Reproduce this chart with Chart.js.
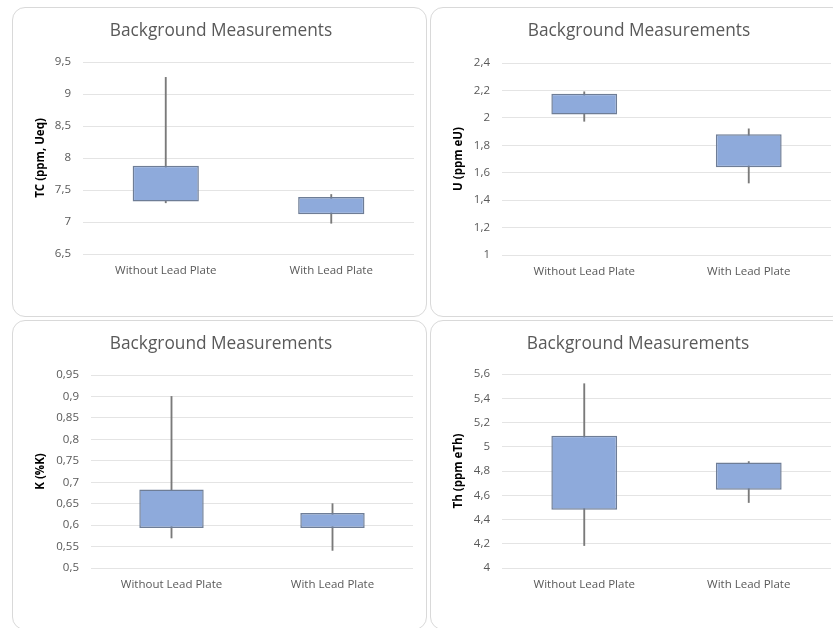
<!DOCTYPE html>
<html>
<head>
<meta charset="utf-8">
<script src="https://cdn.jsdelivr.net/npm/chart.js@4.4.1/dist/chart.umd.min.js"></script>
<style>
  html, body { margin: 0; padding: 0; background: #fff; width: 833px; height: 628px; overflow: hidden; }
  body { position: relative; }
  .card { position: absolute; border: 1px solid #d9d9d9; border-radius: 13px; background: #fff; box-sizing: border-box; overflow: hidden; }
  .card canvas { position: absolute; left: -1px; top: -1px; }
</style>
</head>
<body>
<div class="card" style="left:12px;top:7px;width:415px;height:310px"><canvas id="chartTC" width="415" height="310"></canvas></div>
<div class="card" style="left:430px;top:7px;width:415px;height:310px"><canvas id="chartU" width="415" height="310"></canvas></div>
<div class="card" style="left:12px;top:320px;width:415px;height:310px"><canvas id="chartK" width="415" height="310"></canvas></div>
<div class="card" style="left:430px;top:320px;width:415px;height:310px"><canvas id="chartTh" width="415" height="310"></canvas></div>
<script>
// Categories shared by all four panels
const categories = ["Without Lead Plate", "With Lead Plate"];

// Total count (TC), ppm Ueq
const tcMin = [7.30, 6.98];
const tcQ1  = [7.32, 7.12];
const tcQ3  = [7.88, 7.39];
const tcMax = [9.26, 7.43];
const tcTicks = [6.5, 7, 7.5, 8, 8.5, 9, 9.5];

// Uranium, ppm eU
const uMin = [1.975, 1.525];
const uQ1  = [2.025, 1.64];
const uQ3  = [2.175, 1.88];
const uMax = [2.19, 1.92];
const uTicks = [1, 1.2, 1.4, 1.6, 1.8, 2, 2.2, 2.4];

// Potassium, %K
const kMin = [0.57, 0.541];
const kQ1  = [0.593, 0.593];
const kQ3  = [0.683, 0.628];
const kMax = [0.90, 0.65];
const kTicks = [0.5, 0.55, 0.6, 0.65, 0.7, 0.75, 0.8, 0.85, 0.9, 0.95];

// Thorium, ppm eTh
const thMin = [4.185, 4.54];
const thQ1  = [4.48, 4.645];
const thQ3  = [5.09, 4.87];
const thMax = [5.52, 4.878];
const thTicks = [4, 4.2, 4.4, 4.6, 4.8, 5, 5.2, 5.4, 5.6];

const FONT = "'Open Sans', 'Liberation Sans', sans-serif";
const GREY_TEXT = "#595959";

function decimalComma(v) {
  return String(v).replace('.', ',');
}

function boxChart(id, yTitle, mins, q1s, q3s, maxs, ticks, area) {
  const canvas = document.getElementById(id);
  const W = canvas.width, H = canvas.height;
  const titleSize = 17.3, titleLine = 1.2;
  const titleTop = 14;
  const titleBottom = area.top - titleTop - titleSize * titleLine;
  // left padding keeps the chart title centred on the card
  const padLeft = 2 * area.titleCenter - area.right;

  new Chart(canvas, {
    type: 'bar',
    data: {
      labels: categories,
      datasets: [
        {
          // whiskers: min to max
          data: mins.map((m, i) => [m, maxs[i]]),
          backgroundColor: '#7a7a7a',
          borderWidth: 0,
          barThickness: 1.2,
          grouped: false,
          order: 2
        },
        {
          // boxes: first to third quartile
          data: q1s.map((q, i) => [q, q3s[i]]),
          backgroundColor: '#8eaadb',
          borderColor: '#6e7d96',
          borderWidth: 1.5,
          borderSkipped: false,
          barPercentage: 0.4,
          categoryPercentage: 1.0,
          grouped: false,
          order: 1
        }
      ]
    },
    options: {
      responsive: false,
      animation: false,
      devicePixelRatio: 1,
      layout: { padding: { left: padLeft, top: 0, bottom: 0, right: W - area.right } },
      plugins: {
        legend: { display: false },
        tooltip: { enabled: false },
        title: {
          display: true,
          text: 'Background Measurements',
          color: GREY_TEXT,
          font: { family: FONT, size: titleSize, weight: 'normal', lineHeight: titleLine },
          padding: { top: titleTop, bottom: titleBottom }
        }
      },
      scales: {
        x: {
          grid: { display: false, drawTicks: false },
          border: { display: false },
          ticks: { color: GREY_TEXT, font: { family: FONT, size: 11.5 }, padding: 10, maxRotation: 0 },
          afterFit: s => { s.height = H - area.bottom; }
        },
        y: {
          min: ticks[0],
          max: ticks[ticks.length - 1],
          afterBuildTicks: s => { s.ticks = ticks.map(v => ({ value: v })); },
          grid: { color: '#e4e4e4', lineWidth: 1, drawTicks: false },
          border: { display: false },
          ticks: { color: GREY_TEXT, font: { family: FONT, size: 11.5 }, padding: 12, callback: v => decimalComma(v) },
          title: {
            display: true,
            text: yTitle,
            color: '#000',
            font: { family: FONT, size: 11.5, weight: 'bold', lineHeight: 1.2 },
            padding: { top: area.titleX - 6.9 - padLeft, bottom: 0 }
          },
          afterFit: s => { s.width = area.left - padLeft; }
        }
      }
    }
  });
}

boxChart('chartTC', 'TC (ppm, Ueq)', tcMin, tcQ1, tcQ3, tcMax, tcTicks,
  { left: 71, right: 402, top: 55, bottom: 247, titleX: 29, titleCenter: 209 });
boxChart('chartU', 'U (ppm eU)', uMin, uQ1, uQ3, uMax, uTicks,
  { left: 72, right: 401, top: 56, bottom: 248, titleX: 29, titleCenter: 209 });
boxChart('chartK', 'K (%K)', kMin, kQ1, kQ3, kMax, kTicks,
  { left: 79, right: 401, top: 55, bottom: 248, titleX: 29, titleCenter: 209 });
boxChart('chartTh', 'Th (ppm eTh)', thMin, thQ1, thQ3, thMax, thTicks,
  { left: 72, right: 401, top: 54, bottom: 248, titleX: 29, titleCenter: 208 });
</script>
</body>
</html>
